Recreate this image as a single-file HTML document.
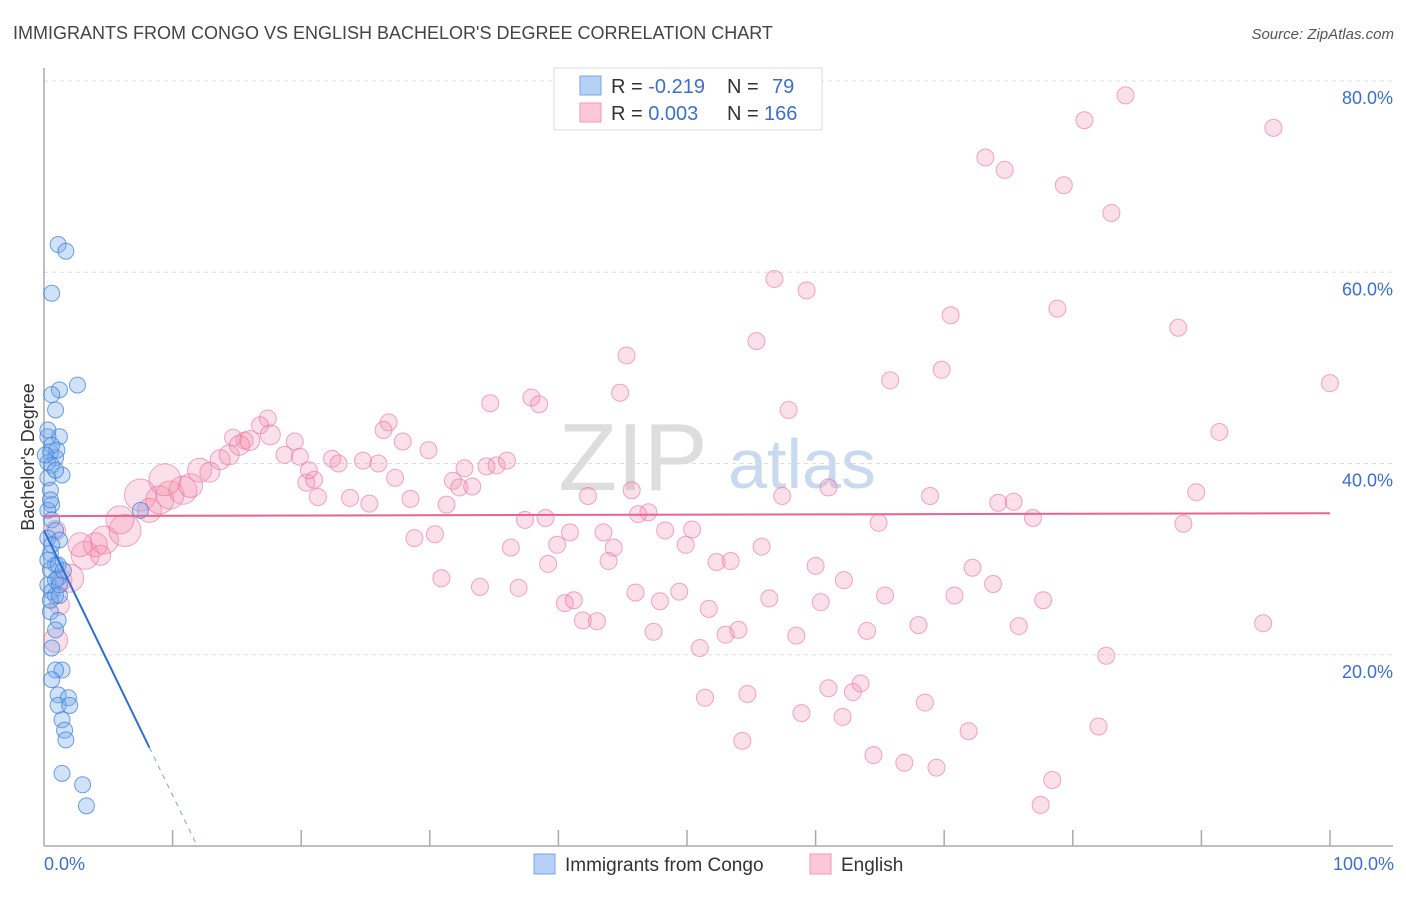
<!DOCTYPE html>
<html><head><meta charset="utf-8"><style>
body{margin:0;background:#fff;font-family:"Liberation Sans",sans-serif}
svg text{font-family:"Liberation Sans",sans-serif}
</style></head><body>
<svg id="chart" width="1406" height="892" xmlns="http://www.w3.org/2000/svg">
<text x="13" y="39" font-size="18" fill="#444">IMMIGRANTS FROM CONGO VS ENGLISH BACHELOR'S DEGREE CORRELATION CHART</text>
<text x="1394" y="39" font-size="15" fill="#555" text-anchor="end" font-style="italic">Source: ZipAtlas.com</text>
<g><text x="633" y="490" font-size="96" fill="#ddd" font-family="Liberation Serif" text-anchor="middle">ZIP</text><text x="802" y="488" font-size="70" fill="#c9daf0" text-anchor="middle">atlas</text></g>
<g id="grid"></g><g id="axes"></g><g id="pink"></g><g id="blue"></g><g id="trend"></g>
<text transform="translate(34,457) rotate(-90)" font-size="18" fill="#333" text-anchor="middle">Bachelor's Degree</text>
<text x="44" y="870" font-size="18" fill="#3a6fd0">0.0%</text>
<text x="1394" y="870" font-size="18" fill="#3a6fd0" text-anchor="end">100.0%</text>
<g>
<rect x="554" y="68" width="268" height="62" fill="#fff" stroke="#ddd"/>
<rect x="580" y="76" width="21" height="19" fill="#b7d0f5" stroke="#7aa6e8"/>
<rect x="580" y="103" width="21" height="19" fill="#fcc8d8" stroke="#f09ab5"/>
<text x="611" y="93" font-size="20" fill="#333">R = <tspan fill="#3a6fd0">-0.219</tspan><tspan x="727">N = </tspan><tspan x="772" fill="#3a6fd0">79</tspan></text>
<text x="611" y="120" font-size="20" fill="#333">R = <tspan fill="#3a6fd0">0.003</tspan><tspan x="727">N = </tspan><tspan x="764" fill="#3a6fd0">166</tspan></text>
</g>
<g><rect x="534" y="854" width="21" height="20" fill="#b7d0f5" stroke="#7aa6e8"/><text x="565" y="871" font-size="19" fill="#333">Immigrants from Congo</text></g>
<g><rect x="810" y="854" width="21" height="20" fill="#fcc8d8" stroke="#f09ab5"/><text x="841" y="871" font-size="19" fill="#333">English</text></g>
</svg>
<script>
const yTicks=[20,40,60,80];
const yTickLabels=["20.0%","40.0%","60.0%","80.0%"];
const xTicks=[10,20,30,40,50,60,70,80,90,100];
const blueX=[1.1,1.7,0.6,2.6,1.2,0.6,0.9,1.2,0.3,0.5,0.9,0.3,0.6,1.4,0.3,0.5,0.6,0.3,0.6,0.9,0.3,1.2,0.5,0.9,0.5,1.1,0.3,0.6,0.9,0.5,1.1,0.6,1.4,0.9,0.6,1.1,1.9,1.1,2.0,1.4,1.6,1.7,1.4,3.0,3.3,0.5,0.9,0.3,0.6,0.5,0.9,0.6,0.3,1.2,0.9,1.0,0.1,1.1,1.2,1.5,7.5];
const blueY=[62.9,62.2,57.8,48.2,47.7,47.2,45.6,42.8,42.8,41.2,40.6,40.1,39.8,38.8,38.5,37.2,35.7,35.1,34.1,33.0,32.2,32.0,30.6,29.4,28.9,28.0,27.3,26.6,26.2,24.5,23.6,20.7,18.4,18.4,17.4,15.8,15.5,14.7,14.7,13.2,12.1,11.1,7.6,6.4,4.2,25.7,27.8,29.9,31.5,36.2,39.3,41.9,43.5,26.2,22.6,41.4,40.9,29.4,27.3,28.8,35.1];
const pinkX=[84.1,95.6,80.9,73.2,74.7,79.3,83.0,56.8,59.3,70.5,78.8,88.2,55.4,45.3,65.8,69.8,100,44.8,34.7,37.9,38.5,57.9,26.8,26.4,91.4,27.9,29.9,17.4,16.8,15.6,14.7,19.5,18.7,19.9,22.4,22.9,24.8,26.0,32.7,34.4,35.2,36.0,31.8,32.3,33.3,27.3,20.4,21.3,23.8,25.3,28.5,31.3,21.0,20.6,42.3,45.7,47.0,46.2,57.4,61.0,68.9,74.2,75.4,89.6,76.9,64.9,88.6,37.4,39.0,40.9,43.5,48.3,50.4,39.9,44.3,36.3,49.9,55.8,28.8,30.4,39.2,43.9,52.3,53.4,60.0,30.9,33.9,36.9,46.0,47.9,49.4,62.2,65.4,72.2,73.8,70.8,77.7,40.5,41.2,51.7,56.4,60.4,41.9,43.0,47.4,53.0,54.0,58.5,64.0,68.0,75.8,94.8,51.0,82.6,51.4,54.7,54.3,58.9,61.0,62.9,63.5,62.1,68.5,71.9,82.0,64.5,66.9,69.4,78.4,77.5,
1.2,0.9,1.4,2.0,3.2,4.0,4.7,6.3,5.9,7.5,8.2,9.0,9.8,10.8,11.4,9.4,12.1,12.9,13.7,14.4,15.2,16.0,17.6,0.9,2.8,4.4];
const pinkY=[78.5,75.1,75.9,72.0,70.7,69.1,66.2,59.3,58.1,55.5,56.2,54.2,52.8,51.3,48.7,49.8,48.4,47.4,46.3,46.9,46.2,45.6,44.3,43.5,43.3,42.3,41.4,44.7,44.0,42.4,42.7,42.3,40.9,40.7,40.5,40.0,40.3,40.0,39.5,39.7,39.8,40.3,38.2,37.5,37.6,38.5,38.0,36.5,36.4,35.8,36.3,35.7,38.3,39.3,36.6,37.2,34.9,34.7,36.6,37.5,36.6,35.9,36.0,37.0,34.3,33.8,33.7,34.1,34.3,32.8,32.8,33.0,33.1,31.5,31.2,31.2,31.5,31.3,32.2,32.6,29.5,29.8,29.7,29.8,29.3,28.0,27.1,27.0,26.5,25.6,26.6,27.8,26.2,29.1,27.4,26.2,25.7,25.4,25.7,24.8,25.9,25.5,23.6,23.5,22.4,22.1,22.6,22.0,22.5,23.1,23.0,23.3,20.7,19.9,15.5,15.9,11.0,13.9,16.5,16.1,17.0,13.5,15.0,12.0,12.5,9.5,8.7,8.2,6.9,4.3,
25.2,21.5,27.8,28.0,30.4,31.5,32.0,33.0,34.1,36.7,35.1,36.2,36.7,37.2,37.7,38.3,39.3,39.1,40.4,40.9,41.9,42.4,43.0,33.0,31.5,30.4];
const pinkBig=[10,12,10,14,14,12,14,16,14,16,12,14,14,14,12,16,12,10,10,10,10,10,10,10,12,10];
const blueTrend=[33.0,-2.77];
const pinkTrend=[34.5,0.003];
const X0=44,X1=1330,Y0=846,Y80=81;
const sx=v=>X0+(X1-X0)*v/100;
const sy=v=>Y0-(Y0-Y80)*v/80;
const NS="http://www.w3.org/2000/svg";
function mk(p,t,a){const e=document.createElementNS(NS,t);for(const k in a)e.setAttribute(k,a[k]);document.getElementById(p).appendChild(e);return e;}
yTicks.forEach((v,i)=>{
 const l=mk('grid','line',{x1:X0,x2:1393,y1:sy(v),y2:sy(v),stroke:'#ddd','stroke-dasharray':'4,4'});
 
 
 const t=mk('grid','text',{x:1393,y:sy(v)+23,'font-size':18,fill:'#3a6fd0','text-anchor':'end'});
 t.textContent=yTickLabels[i];
 
 
});
{const l=mk('grid','line',{x1:X0,x2:1393,y1:sy(80),y2:sy(80),stroke:'#ddd','stroke-dasharray':'4,4'});}
const ax=mk('axes','line',{x1:X0,x2:X0,y1:68,y2:Y0,stroke:'#aaa','stroke-width':1.5});


const bx=mk('axes','line',{x1:X0,x2:1393,y1:Y0,y2:Y0,stroke:'#aaa','stroke-width':1.5});


xTicks.forEach(v=>{const t=mk('axes','line',{x1:sx(v),x2:sx(v),y1:Y0-16,y2:Y0,stroke:'#aaa','stroke-width':1.5});
 
 });
const nBig=pinkBig.length,nP=pinkX.length;
pinkX.forEach((x,i)=>{const j=i-(nP-nBig);const r=j>=0?pinkBig[j]:8.5;
 const c=mk('pink','circle',{cx:sx(x),cy:sy(pinkY[i]),r:r,fill:'rgba(244,143,177,0.28)',stroke:'rgba(236,110,150,0.6)','stroke-width':1});
 
 });
blueX.forEach((x,i)=>{const c=mk('blue','circle',{cx:sx(x),cy:sy(blueY[i]),r:8,fill:'rgba(120,170,235,0.35)',stroke:'rgba(60,130,220,0.75)','stroke-width':1});
 
 });
const bt=x=>blueTrend[0]+blueTrend[1]*x;
const xs=8.2,xe=-blueTrend[0]/blueTrend[1];
const t1=mk('trend','line',{x1:sx(0),y1:sy(bt(0)),x2:sx(xs),y2:sy(bt(xs)),stroke:'#2a6fd8','stroke-width':2});


const t2=mk('trend','line',{x1:sx(xs),y1:sy(bt(xs)),x2:sx(xe),y2:sy(0),stroke:'#7aa6e8','stroke-width':1,'stroke-dasharray':'5,5'});


const pt=x=>pinkTrend[0]+pinkTrend[1]*x;
const t3=mk('trend','line',{x1:sx(0),y1:sy(pt(0)),x2:sx(100),y2:sy(pt(100)),stroke:'#e8648f','stroke-width':2});


</script>
</body></html>
